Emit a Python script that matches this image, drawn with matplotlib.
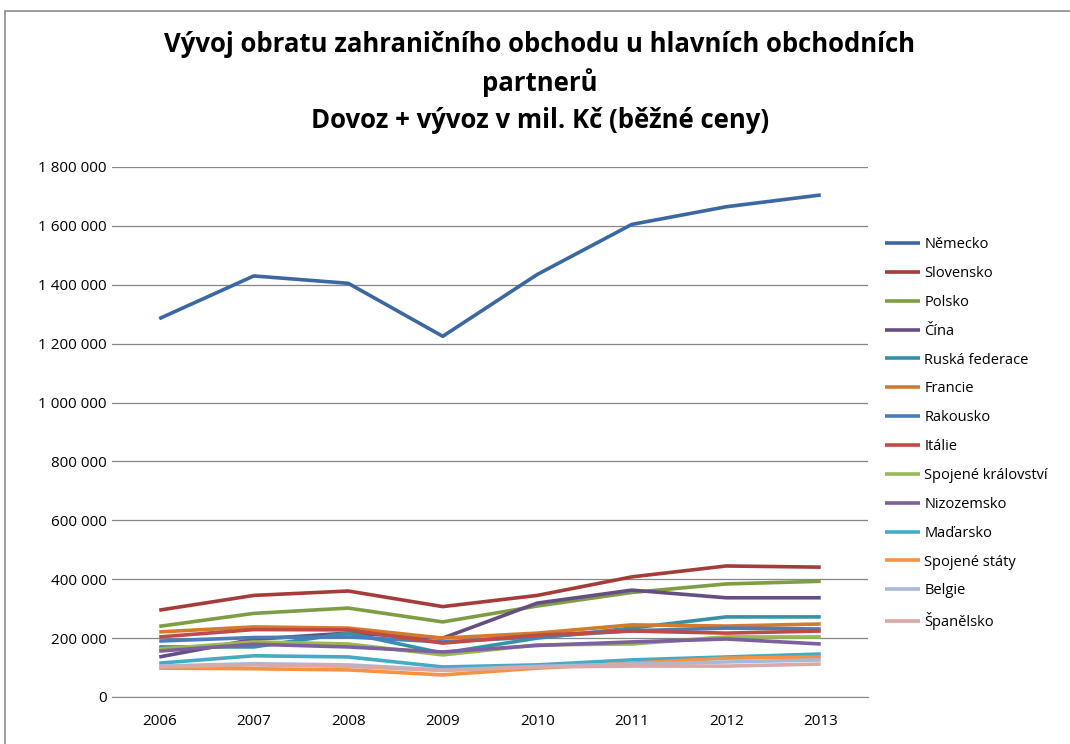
import matplotlib
matplotlib.use("Agg")
import matplotlib.pyplot as plt
from matplotlib.ticker import FuncFormatter, MultipleLocator
from matplotlib.patches import Rectangle

years = ["2006", "2007", "2008", "2009", "2010", "2011", "2012", "2013"]

nemecko = [1285000, 1430000, 1405000, 1225000, 1435000, 1605000, 1665000, 1705000]
slovensko = [295000, 345000, 360000, 307000, 345000, 408000, 445000, 441000]
polsko = [240000, 284000, 302000, 255000, 309000, 355000, 384000, 393000]
cina = [136000, 196000, 217000, 200000, 319000, 363000, 337000, 337000]
ruska = [170000, 170000, 217000, 149000, 200000, 234000, 272000, 272000]
francie = [221000, 238000, 234000, 200000, 217000, 245000, 241000, 248000]
rakousko = [190000, 202000, 204000, 187000, 204000, 225000, 234000, 231000]
italie = [204000, 229000, 228000, 183000, 210000, 224000, 217000, 224000]
spoj_kral = [163000, 187000, 180000, 143000, 177000, 180000, 204000, 204000]
nizozemsko = [156000, 179000, 170000, 153000, 175000, 187000, 197000, 180000]
madarsko = [115000, 140000, 136000, 102000, 109000, 126000, 136000, 146000]
usa = [98000, 96000, 92000, 75000, 98000, 115000, 132000, 136000]
belgie = [105000, 113000, 109000, 92000, 104000, 112000, 119000, 126000]
spanelsko = [102000, 109000, 104000, 90000, 102000, 105000, 105000, 112000]

names = ["Německo", "Slovensko", "Polsko", "Čína", "Ruská federace", "Francie",
         "Rakousko", "Itálie", "Spojené království", "Nizozemsko", "Maďarsko",
         "Spojené státy", "Belgie", "Španělsko"]
series = [nemecko, slovensko, polsko, cina, ruska, francie, rakousko, italie,
          spoj_kral, nizozemsko, madarsko, usa, belgie, spanelsko]
colors = ["#3B68A0", "#A43C3A", "#7F9D43", "#654E81", "#3890A6", "#D47A2E",
          "#4A7EBB", "#BE4B48", "#98B954", "#7D60A0", "#46AAC5", "#F69240",
          "#A7B9D9", "#D9A8A7"]

fig = plt.figure(figsize=(10.7, 7.44), dpi=100)
W, H = 1070, 744

# chart area border
fig.patches.append(Rectangle((5 / W, -0.1), 1.2, 1 - 11 / H + 0.1, transform=fig.transFigure,
                             fill=False, edgecolor="#8c8c8c", linewidth=1.2))

ax = fig.add_axes([112 / W, 1 - 697 / H, 756 / W, 530 / H])
x = list(range(len(years)))
for name, vals, c in zip(names, series, colors):
    ax.plot(x, vals, color=c, linewidth=2.6, label=name, solid_capstyle="butt")

ax.set_xlim(-0.5, 7.5)
ax.set_ylim(0, 1800000)
ax.yaxis.set_major_locator(MultipleLocator(200000))
ax.yaxis.set_major_formatter(FuncFormatter(lambda v, p: f"{int(v):,}".replace(",", " ")))
ax.set_xticks(x)
ax.set_xticklabels(years)
ax.grid(axis="y", color="#868686", linewidth=0.9)
ax.set_axisbelow(True)
for s in ["top", "right", "left"]:
    ax.spines[s].set_visible(False)
ax.spines["bottom"].set_color("#868686")
ax.tick_params(axis="y", length=0, pad=4, labelsize=11, labelcolor="#000000")
ax.tick_params(axis="x", length=0, pad=12, labelsize=11)
for lab in ax.get_xticklabels() + ax.get_yticklabels():
    lab.set_family("Open Sans")

leg = fig.legend(loc="upper left", bbox_to_anchor=(872 / W, 1 - 224 / H), frameon=False,
                 handlelength=2.4, handletextpad=0.3, labelspacing=0.95,
                 prop={"family": "Open Sans", "size": 10.5})

title_lines = ["Vývoj obratu zahraničního obchodu u hlavních obchodních",
               "partnerů",
               "Dovoz + vývoz v mil. Kč (běžné ceny)"]
for i, t in enumerate(title_lines):
    fig.text(540 / W, 1 - (45 + 38 * i) / H, t, ha="center", va="center",
             fontsize=18.5, fontweight="bold", family="Open Sans")

fig.savefig("out.png", dpi=100)
